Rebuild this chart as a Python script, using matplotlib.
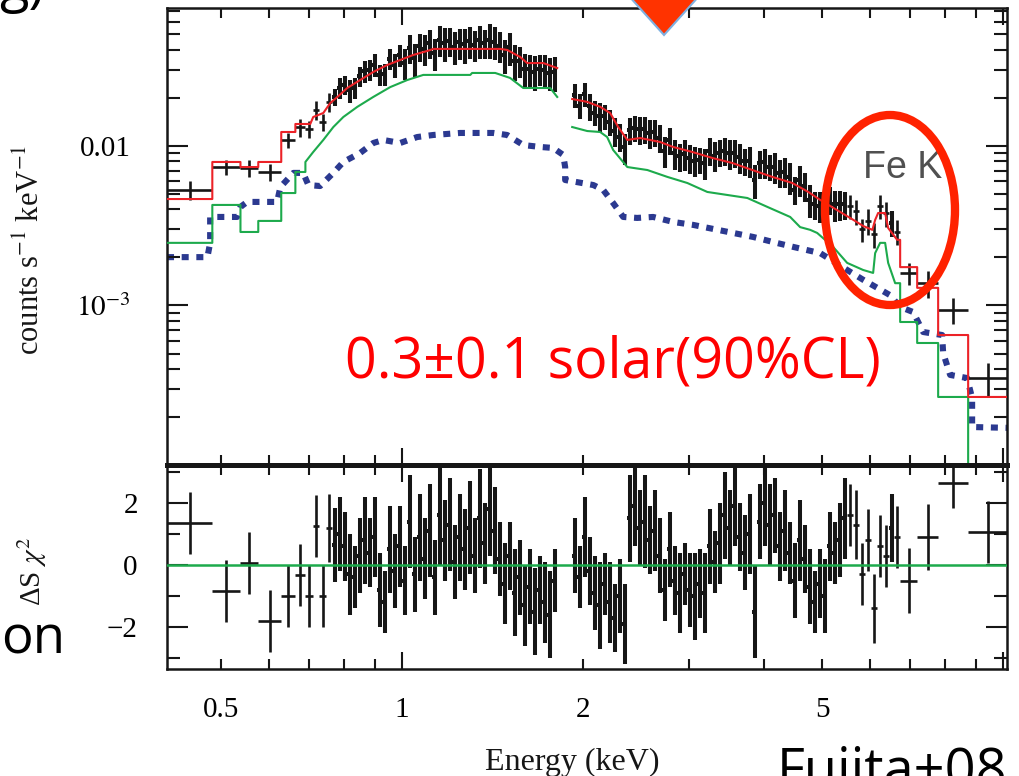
import numpy as np
import matplotlib
matplotlib.use("Agg")
import matplotlib.pyplot as plt
from matplotlib.ticker import FixedLocator, FixedFormatter, NullFormatter, FuncFormatter
from matplotlib.patches import Ellipse, Polygon

plt.rcParams["font.family"] = ["Liberation Serif", "DejaVu Serif"]
plt.rcParams["mathtext.fontset"] = "stix"

# ---- spectrum data: soft band (bin edges in keV, counts/s/keV, rel. error, residuals) ----
soft_edges = [0.406, 0.483, 0.538, 0.576, 0.629, 0.664, 0.690, 0.711, 0.728, 0.747, 0.765,
              0.780, 0.795, 0.810, 0.826, 0.842, 0.858, 0.875, 0.892, 0.909, 0.926, 0.944,
              0.962, 0.981, 1.000, 1.019, 1.039, 1.059, 1.080, 1.101, 1.122, 1.143, 1.166,
              1.188, 1.211, 1.235, 1.258, 1.283, 1.308, 1.333, 1.359, 1.385, 1.412, 1.439,
              1.467, 1.495, 1.524, 1.554, 1.584, 1.614, 1.646, 1.677, 1.710, 1.743, 1.777, 1.811]
soft_flux = [0.00530, 0.00738, 0.00728, 0.00687, 0.01091, 0.01315, 0.0128, 0.0168, 0.0141, 0.0189, 0.0203,
             0.0232, 0.0242, 0.0223, 0.0232, 0.0273, 0.0296, 0.0300, 0.0324, 0.0279, 0.0283, 0.0351,
             0.0321, 0.0373, 0.0331, 0.0411, 0.0354, 0.0421, 0.0408, 0.0443, 0.0381, 0.0461, 0.0444,
             0.0455, 0.0419, 0.0446, 0.0436, 0.0453, 0.0429, 0.0459, 0.0442, 0.0465, 0.0451, 0.0424,
             0.0372, 0.0415, 0.0343, 0.0341, 0.0303, 0.0304, 0.0293, 0.0304, 0.0300, 0.0288, 0.0290]
soft_relerr = [0.14, 0.11, 0.12, 0.12, 0.11, 0.13, 0.12, 0.14, 0.12, 0.13, 0.12,
               0.15, 0.14, 0.16, 0.15, 0.14, 0.16, 0.15, 0.17, 0.15, 0.16, 0.15, 0.17, 0.16,
               0.22, 0.21, 0.23, 0.20, 0.22, 0.21, 0.23, 0.22, 0.24, 0.21, 0.23,
               0.22, 0.25, 0.23, 0.22, 0.24, 0.21, 0.25, 0.23, 0.22, 0.24,
               0.23, 0.25, 0.22, 0.24, 0.23, 0.25, 0.22, 0.24, 0.23, 0.25]
soft_resid = [1.35, -0.84, 0.05, -1.8, -1.0, -0.32, -1.0, 1.26, -1.0, 1.2, 0.65,
              1.0, 0.6, -0.3, -0.4, 0.3, 0.8, 0.4, 0.9, -0.8, -1.2, 0.5,
              -0.2, 0.6, -0.5, 1.4, -0.3, 0.9, 0.2, 1.1, -0.4, 1.6, 0.8,
              1.3, 0.1, 0.9, 0.5, 1.2, 0.3, 1.5, 0.7, 1.8, 1.1, 0.2,
              -0.6, 0.3, -0.9, -0.4, -1.3, -0.7, -1.5, -0.8, -1.2, -1.6, -0.5]
soft_resid_err = [1.0, 1.0, 1.0, 1.0, 1.0, 1.0, 1.0, 1.0, 1.0, 1.1, 1.2,
                  1.2, 1.1, 1.3, 1.0, 1.2, 1.4, 1.1, 1.3, 1.2, 1.0, 1.4,
                  1.2, 1.3, 1.1, 1.5, 1.2, 1.4, 1.3, 1.5, 1.2, 1.6, 1.3,
                  1.5, 1.2, 1.4, 1.3, 1.5, 1.2, 1.6, 1.3, 1.5, 1.4, 1.2,
                  1.3, 1.1, 1.4, 1.2, 1.3, 1.2, 1.4, 1.1, 1.3, 1.4, 1.0]

# ---- hard band ----
hard_edges = [1.918, 1.956, 1.993, 2.032, 2.071, 2.112, 2.152, 2.194, 2.237, 2.280,
              2.324, 2.369, 2.415, 2.461, 2.509, 2.558, 2.607, 2.658, 2.709, 2.762,
              2.815, 2.869, 2.925, 2.982, 3.039, 3.098, 3.158, 3.219, 3.282, 3.345,
              3.410, 3.476, 3.543, 3.612, 3.682, 3.753, 3.825, 3.899, 3.975, 4.052,
              4.130, 4.210, 4.292, 4.375, 4.459, 4.546, 4.634, 4.723, 4.815, 4.908,
              5.003, 5.100, 5.199, 5.299, 5.402, 5.506, 5.634, 5.765, 5.899, 6.037,
              6.177, 6.320, 6.467, 6.590, 6.740, 7.194, 7.796, 8.746, 10.15]
hard_flux = [0.0209, 0.0179, 0.0212, 0.0177, 0.0162, 0.0154, 0.0154, 0.0142, 0.0124, 0.0114,
             0.0098, 0.0126, 0.0130, 0.0127, 0.0127, 0.0121, 0.0122, 0.0113, 0.0093, 0.0109,
             0.0090, 0.0086, 0.0089, 0.0084, 0.0081, 0.0082, 0.0078, 0.0093, 0.0087, 0.0091,
             0.0093, 0.0090, 0.0091, 0.0085, 0.0080, 0.0081, 0.0061, 0.0078, 0.0079, 0.0074,
             0.0074, 0.0068, 0.0069, 0.0064, 0.0053, 0.0061, 0.0056, 0.0046, 0.0043, 0.0042,
             0.0039, 0.0046, 0.0043, 0.0043, 0.0043,
             0.0042, 0.0039, 0.0030, 0.0034, 0.0028, 0.0042, 0.0038, 0.0033, 0.0029,
             0.0016, 0.00138, 0.00094, 0.00035]
hard_relerr = [0.17, 0.18, 0.17, 0.19, 0.18, 0.20, 0.18, 0.19, 0.21, 0.20,
               0.22, 0.19, 0.18, 0.20, 0.19, 0.21, 0.19, 0.20, 0.22, 0.19,
               0.21, 0.20, 0.22, 0.20, 0.21, 0.19, 0.22, 0.20, 0.21, 0.19,
               0.20, 0.22, 0.20, 0.21, 0.19, 0.22, 0.24, 0.20, 0.21, 0.19,
               0.22, 0.20, 0.21, 0.23, 0.20, 0.22, 0.21, 0.23, 0.20, 0.22,
               0.21, 0.20, 0.22, 0.21, 0.20,
               0.17, 0.18, 0.17, 0.19, 0.18, 0.17, 0.18, 0.19, 0.18,
               0.16, 0.19, 0.19, 0.24]
hard_resid = [0.3, -0.4, 0.9, -0.2, -0.9, -1.3, -0.6, -1.2, -1.7, -1.0,
              -1.9, 1.5, 1.9, 1.2, 1.4, 0.8, 1.1, 0.3, -0.8, 0.5,
              -0.5, -0.9, -0.3, -0.8, -1.0, -0.6, -0.9, 0.6, 0.1, 0.7,
              1.6, 1.2, 1.9, 0.9, 0.4, 1.0, -1.5, 1.4, 2.0, 1.3,
              1.6, 0.6, 1.1, 0.4, -0.5, 0.8, 0.2, -0.7, -1.2, -0.6,
              -1.0, 0.6, 0.4, 0.8, 1.5,
              1.6, 1.3, -0.3, 0.8, -1.4, 0.6, 0.3, 1.2, 0.9,
              -0.5, 0.9, 2.65, 1.05]
hard_resid_err = [1.2, 1.0, 1.3, 1.1, 1.2, 1.4, 1.0, 1.3, 1.1, 1.2,
                  1.3, 1.4, 1.3, 1.2, 1.5, 1.1, 1.3, 1.2, 1.0, 1.2,
                  1.1, 1.3, 1.0, 1.2, 1.4, 1.1, 1.3, 1.2, 1.0, 1.3,
                  1.4, 1.2, 1.3, 1.1, 1.2, 1.3, 1.5, 1.2, 1.4, 1.3,
                  1.2, 1.1, 1.3, 1.0, 1.2, 1.3, 1.1, 1.2, 1.0, 1.1,
                  1.2, 1.1, 1.0, 1.2, 1.3,
                  1.0, 1.1, 1.0, 1.0, 1.1, 1.0, 1.0, 1.1, 1.0,
                  1.05, 1.05, 0.8, 1.0]

# ---- model curves ----
red_soft_e = [0.406, 0.483, 0.483, 0.538, 0.538, 0.576, 0.576, 0.629, 0.629, 0.664, 0.664, 0.703,
              0.711, 0.739, 0.759, 0.780, 0.810, 0.851, 0.895, 0.944, 0.992, 1.043, 1.100, 1.126,
              1.456, 1.495, 1.572, 1.614, 1.717, 1.811]
red_soft_f = [0.00465, 0.00465, 0.00794, 0.00794, 0.00738, 0.00738, 0.00794, 0.00794, 0.01224, 0.01224,
              0.01374, 0.01374, 0.0152, 0.0161, 0.0186, 0.0203, 0.0231, 0.0259, 0.0291, 0.0322,
              0.0346, 0.0372, 0.0394, 0.0406, 0.0406, 0.0400, 0.0361, 0.0331, 0.0331, 0.0308]
red_hard_e = [1.918, 2.032, 2.135, 2.218, 2.288, 2.369, 2.489, 2.687, 2.824, 3.039,
              3.282, 3.543, 3.825, 4.130, 4.459, 4.74, 4.961, 5.22, 5.634, 5.85,
              6.06, 6.124, 6.194, 6.363, 6.437, 6.663, 6.740, 6.740, 7.194, 7.194,
              7.796, 7.796, 8.746, 8.746, 10.15]
red_hard_f = [0.0197, 0.0189, 0.0176, 0.0161, 0.01315, 0.01091, 0.01122, 0.01059, 0.00986, 0.00917,
              0.00841, 0.00782, 0.00707, 0.00640, 0.00586, 0.00515, 0.00459, 0.00409, 0.00344, 0.00315,
              0.00298, 0.00344, 0.00380, 0.00380, 0.00306, 0.00258, 0.00258, 0.00174, 0.00174, 0.00129,
              0.00129, 0.000653, 0.000653, 0.000267, 0.000267]
green_soft_e = [0.406, 0.483, 0.483, 0.538, 0.538, 0.576, 0.576, 0.629, 0.629, 0.664,
                0.664, 0.690, 0.690, 0.711, 0.739, 0.768, 0.798, 0.842, 0.895, 0.955,
                1.019, 1.084, 1.298, 1.307, 1.428, 1.512, 1.590, 1.763, 1.811]
green_soft_f = [0.00247, 0.00247, 0.00427, 0.00427, 0.00289, 0.00289, 0.00339, 0.00339, 0.00507, 0.00507,
                0.00687, 0.00687, 0.00794, 0.00917, 0.01091, 0.01315, 0.0152, 0.0176, 0.0203, 0.0234,
                0.0259, 0.0279, 0.0279, 0.0287, 0.0287, 0.0267, 0.0231, 0.0231, 0.0203]
green_hard_e = [1.918, 2.032, 2.135, 2.193, 2.244, 2.369, 2.558, 2.762, 2.982, 3.219,
                3.476, 3.753, 4.052, 4.422, 4.594, 4.775, 4.904, 5.213, 5.501, 5.848,
                6.077, 6.124, 6.242, 6.363, 6.437, 6.612, 6.740, 6.740, 7.194, 7.194,
                7.796, 7.796, 8.746, 8.746]
green_hard_f = [0.01315, 0.01241, 0.01224, 0.01138, 0.00944, 0.00738, 0.00707, 0.00640, 0.00586, 0.00515,
                0.00493, 0.00472, 0.00415, 0.00359, 0.00310, 0.00298, 0.00285, 0.00233, 0.00185, 0.00167,
                0.00160, 0.00213, 0.00247, 0.00247, 0.00185, 0.00138, 0.00138, 0.000788, 0.000788, 0.000582,
                0.000582, 0.000267, 0.000267, 0.00009]
blue_e = [0.406, 0.474, 0.479, 0.479, 0.531, 0.538, 0.552, 0.619, 0.627, 0.659,
          0.684, 0.698, 0.730, 0.768, 0.798, 0.851, 0.895, 0.930, 0.992, 1.059,
          1.126, 1.249, 1.417, 1.495, 1.590, 1.697, 1.783, 1.853, 1.867, 1.867,
          2.08, 2.160, 2.244, 2.332, 2.460, 2.616, 2.824, 3.05, 3.292, 3.554,
          3.837, 4.141, 4.473, 4.961, 5.501, 5.848, 6.486, 6.740, 7.083, 7.194,
          7.360, 7.916, 7.947, 8.163, 8.710, 8.880, 8.880, 10.15]
blue_f = [0.00201, 0.00201, 0.00247, 0.00359, 0.00359, 0.00415, 0.00446, 0.00446, 0.00553, 0.00678,
          0.00678, 0.00569, 0.00561, 0.00678, 0.00794, 0.00904, 0.01044, 0.01091, 0.01044, 0.01138,
          0.01172, 0.01207, 0.01207, 0.01172, 0.01014, 0.00986, 0.00972, 0.00879, 0.00738, 0.00612,
          0.00569, 0.00530, 0.00439, 0.00359, 0.00354, 0.00359, 0.00334, 0.00320, 0.00302, 0.00285,
          0.00269, 0.00250, 0.00233, 0.00213, 0.00167, 0.00145, 0.00116, 0.000979, 0.000910, 0.000811,
          0.000682, 0.000653, 0.000504, 0.000367, 0.000351, 0.000263, 0.000173, 0.000171]

RED = "#EC2227"
GREEN = "#1DAA4C"
BLUE = "#2B3990"
INK = "#161616"

W, H = 1020, 776
fig = plt.figure(figsize=(W / 100, H / 100), dpi=100)
ax_spec = fig.add_axes([167 / W, 1 - 465 / H, 840 / W, 457 / H])
ax_res = fig.add_axes([167 / W, 1 - 669 / H, 840 / W, 204 / H])


def bin_geometry(edges):
    edges = np.asarray(edges)
    lo, hi = edges[:-1], edges[1:]
    mid = np.sqrt(lo * hi)
    return mid, mid - lo, hi - mid, np.log10(hi / lo)


for edges, flux, rel, res, res_err in [
    (soft_edges, soft_flux, soft_relerr, soft_resid, soft_resid_err),
    (hard_edges, hard_flux, hard_relerr, hard_resid, hard_resid_err),
]:
    mid, xl, xh, width = bin_geometry(edges)
    flux, rel = np.asarray(flux), np.asarray(rel)
    res, res_err = np.asarray(res), np.asarray(res_err)
    # narrow (finely grouped) bins are drawn heavier so the crowded band reads as solid
    for sel, lw in [(width < 0.009, 2.9), (width >= 0.009, 1.9)]:
        xerr = [xl[sel], xh[sel]]
        ax_spec.errorbar(mid[sel], flux[sel], xerr=xerr, yerr=flux[sel] * rel[sel],
                         fmt="none", ecolor=INK, elinewidth=lw, zorder=2)
        ax_res.errorbar(mid[sel], res[sel], xerr=xerr, yerr=res_err[sel],
                        fmt="none", ecolor=INK, elinewidth=lw, zorder=2)

ax_spec.plot(blue_e, blue_f, color=BLUE, lw=4.4, ls=(0, (1.15, 1.25)),
             dash_capstyle="butt", zorder=1)
ax_spec.plot(green_soft_e, green_soft_f, color=GREEN, lw=1.5, zorder=3)
ax_spec.plot(green_hard_e, green_hard_f, color=GREEN, lw=1.5, zorder=3)
ax_spec.plot(red_soft_e, red_soft_f, color=RED, lw=1.5, zorder=4)
ax_spec.plot(red_hard_e, red_hard_f, color=RED, lw=1.5, zorder=4)
ax_res.axhline(0, color=GREEN, lw=1.8, zorder=4)

# axes, ticks
for a in (ax_spec, ax_res):
    a.set_xscale("log")
    a.set_xlim(0.406, 10.15)
    for s in a.spines.values():
        s.set_linewidth(1.8)
        s.set_color(INK)
    a.xaxis.set_major_locator(FixedLocator([1, 10]))
    a.xaxis.set_minor_locator(FixedLocator([0.5, 0.6, 0.7, 0.8, 0.9, 2, 3, 4, 5, 6, 7, 8, 9]))
    a.tick_params(which="both", direction="in", top=True, right=True, width=1.5,
                  color=INK, labelsize=21)
    a.tick_params(axis="x", which="major", length=12, pad=20)
    a.tick_params(axis="x", which="minor", length=7.5, pad=20)
    a.tick_params(axis="y", which="major", length=15)
    a.tick_params(axis="y", which="minor", length=9.5)

ax_spec.spines["bottom"].set_linewidth(3.6)
ax_res.spines["top"].set_linewidth(3.6)

ax_spec.set_yscale("log")
ax_spec.set_ylim(1e-4, 0.0733)
ax_spec.yaxis.set_major_locator(FixedLocator([1e-3, 1e-2]))
ax_spec.yaxis.set_major_formatter(FixedFormatter(["$10^{-3}$", "0.01"]))
ax_spec.yaxis.set_minor_locator(FixedLocator([k * 10.0 ** p for p in (-4, -3, -2) for k in range(2, 10)]))
ax_spec.yaxis.set_minor_formatter(NullFormatter())
ax_spec.tick_params(axis="y", pad=26)
ax_spec.xaxis.set_major_formatter(NullFormatter())
ax_spec.xaxis.set_minor_formatter(NullFormatter())

ax_res.set_ylim(-3.35, 3.22)
ax_res.yaxis.set_major_locator(FixedLocator([-2, 0, 2]))
ax_res.yaxis.set_minor_locator(FixedLocator([-3, -1, 1, 3]))
ax_res.yaxis.set_major_formatter(FixedFormatter(["\u22122", "0", "2"]))
ax_res.tick_params(axis="y", pad=21)
ax_res.xaxis.set_major_formatter(FuncFormatter(lambda v, p: "1" if v == 1 else ""))
ax_res.xaxis.set_minor_formatter(FuncFormatter(lambda v, p: {0.5: "0.5", 2: "2", 5: "5"}.get(v, "")))

# axis titles
fig.text(572 / W, 1 - 770 / H, "Energy (keV)", ha="center", va="baseline", fontsize=23, color=INK)
fig.text(31 / W, 1 - 250 / H, "counts s$^{-1}$ keV$^{-1}$", rotation=90,
         ha="center", va="center", fontsize=22, color=INK)
fig.text(32 / W, 1 - 571 / H, "\u0394S $\\chi^2$", rotation=90,
         ha="center", va="center", fontsize=21, color=INK)

# annotations
fig.text(345 / W, 1 - 377 / H, "0.3\u00b10.1 solar(90%CL)", family="Open Sans",
         fontsize=40, color="#FF0000", ha="left", va="baseline")
fig.text(863 / W, 1 - 178 / H, "Fe K", family="Liberation Sans", fontsize=27,
         color="#505050", ha="left", va="baseline")
fig.add_artist(Ellipse((890 / W, 1 - 210 / H), 130 / W, 190 / H, transform=fig.transFigure,
                       fill=False, ec="#FF2200", lw=6, zorder=5))
fig.add_artist(Polygon([(628 / W, 1 + 5 / H), (700 / W, 1 + 5 / H), (664 / W, 1 - 35 / H)],
                       closed=True, transform=fig.transFigure, fc="#FF3300",
                       ec="#7FB0E0", lw=1.5, zorder=5))
fig.text(1 / W, 1 - 653 / H, "on", family="Open Sans", fontsize=38, color="black",
         ha="left", va="baseline")
fig.text(777 / W, 1 - 787 / H, "Fujita+08", family="Open Sans", fontsize=39, color="black",
         ha="left", va="baseline")
fig.text(45 / W, 1 - 1 / H, "g)", family="Open Sans", fontsize=39, color="black",
         ha="right", va="baseline")

fig.savefig("out.png", dpi=100)
